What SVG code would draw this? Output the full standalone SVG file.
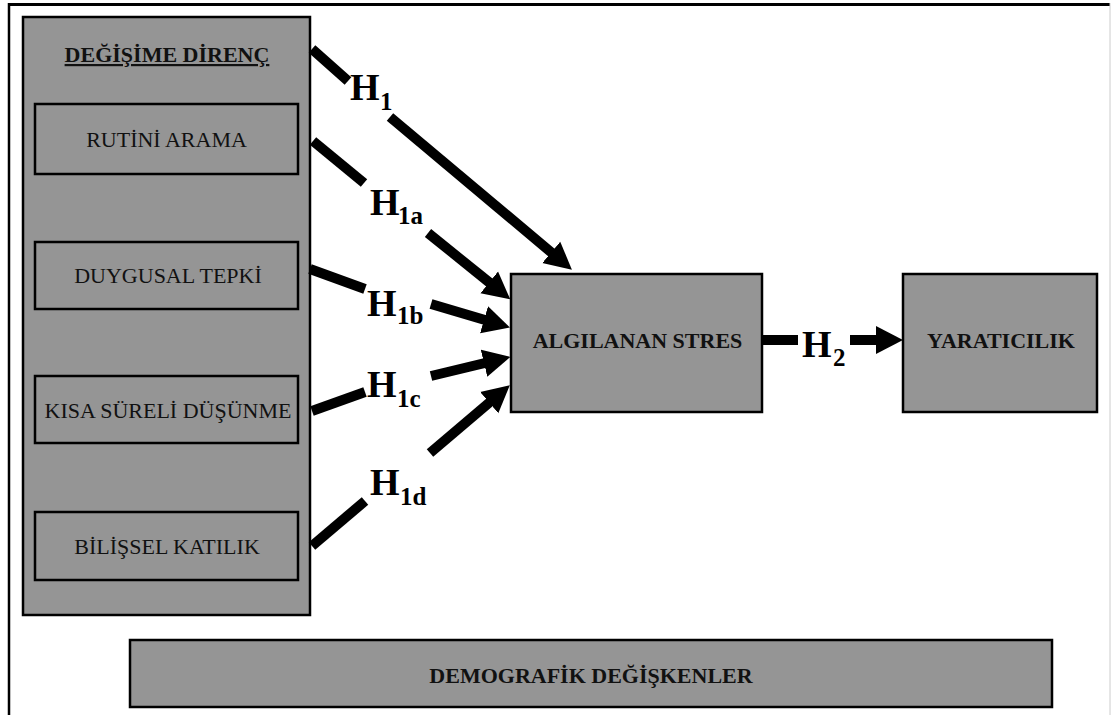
<svg xmlns="http://www.w3.org/2000/svg" width="1111" height="715" viewBox="0 0 1111 715">
<defs>
<marker id="ah" markerUnits="userSpaceOnUse" markerWidth="30" markerHeight="32" refX="1" refY="15" orient="auto" viewBox="0 0 30 32">
<path d="M0,1 L27,15 L0,29 z" fill="#000"/>
</marker>
<style>
.box{fill:#959595;stroke:#000;stroke-width:2.5}
.t{font-family:"Liberation Serif","Times New Roman",serif;font-size:22px;fill:#111;text-anchor:middle}
.b{font-weight:bold}
.con{stroke:#000;stroke-width:10;fill:none}
.h{font-family:"Liberation Serif","Times New Roman",serif;font-weight:bold;font-size:38px;fill:#000}
.s{font-family:"Liberation Serif","Times New Roman",serif;font-weight:bold;font-size:25px;fill:#000}
</style>
</defs>
<rect width="1111" height="715" fill="#fff"/>
<g id="frame">
<line x1="8" y1="4.5" x2="1110" y2="4.5" stroke="#000" stroke-width="3"/>
<line x1="9" y1="3" x2="9" y2="715" stroke="#000" stroke-width="2.5"/>
<line x1="1110" y1="3" x2="1110" y2="715" stroke="#ccc" stroke-width="1"/>
</g>
<g id="degisime-direnc">
<rect class="box" x="23" y="17" width="287" height="598"/>
<text class="t b" x="167" y="62" font-size="23" text-decoration="underline">DEĞİŞİME DİRENÇ</text>
</g>
<g id="rutini-arama">
<rect class="box" x="35" y="104" width="263" height="70"/>
<text class="t" x="166.5" y="147">RUTİNİ ARAMA</text>
</g>
<g id="duygusal-tepki">
<rect class="box" x="35" y="242" width="263" height="67"/>
<text class="t" x="168" y="283">DUYGUSAL TEPKİ</text>
</g>
<g id="kisa-sureli">
<rect class="box" x="35" y="376" width="263" height="67"/>
<text class="t" x="168" y="418">KISA SÜRELİ DÜŞÜNME</text>
</g>
<g id="bilissel-katilik">
<rect class="box" x="35" y="512" width="263" height="68"/>
<text class="t" x="167" y="554">BİLİŞSEL KATILIK</text>
</g>
<g id="algilanan-stres">
<rect class="box" x="511" y="274" width="251" height="138"/>
<text class="t b" x="637.5" y="348" font-size="23">ALGILANAN STRES</text>
</g>
<g id="yaraticilik">
<rect class="box" x="903" y="274" width="194" height="138"/>
<text class="t b" x="1001" y="348" font-size="22.5">YARATICILIK</text>
</g>
<g id="demografik">
<rect class="box" x="130" y="640" width="922" height="67"/>
<text class="t b" x="591" y="683">DEMOGRAFİK DEĞİŞKENLER</text>
</g>
<g id="connectors">
<line class="con" x1="312" y1="49" x2="348" y2="81"/>
<line class="con" x1="390" y1="117" x2="552" y2="253" marker-end="url(#ah)"/>
<line class="con" x1="313" y1="141" x2="364" y2="183"/>
<line class="con" x1="428" y1="233" x2="490" y2="283" marker-end="url(#ah)"/>
<line class="con" x1="310" y1="269" x2="365" y2="289"/>
<line class="con" x1="431" y1="304" x2="485" y2="320" marker-end="url(#ah)"/>
<line class="con" x1="312" y1="411" x2="365" y2="392"/>
<line class="con" x1="431" y1="376" x2="485" y2="363" marker-end="url(#ah)"/>
<line class="con" x1="312" y1="546" x2="365" y2="501"/>
<line class="con" x1="430" y1="453" x2="490" y2="402" marker-end="url(#ah)"/>
<line class="con" x1="762" y1="340" x2="798" y2="340"/>
<line class="con" x1="850" y1="340" x2="877" y2="340" marker-end="url(#ah)"/>
</g>
<g id="labels">
<text><tspan class="h" x="350" y="100">H</tspan><tspan class="s" x="380" y="110">1</tspan></text>
<text><tspan class="h" x="370" y="215">H</tspan><tspan class="s" x="398" y="224">1a</tspan></text>
<text><tspan class="h" x="367" y="316">H</tspan><tspan class="s" x="397" y="324">1b</tspan></text>
<text><tspan class="h" x="367" y="397">H</tspan><tspan class="s" x="397" y="407">1c</tspan></text>
<text><tspan class="h" x="370" y="495">H</tspan><tspan class="s" x="400" y="505">1d</tspan></text>
<text><tspan class="h" x="802" y="357">H</tspan><tspan class="s" x="833" y="366">2</tspan></text>
</g>
</svg>
